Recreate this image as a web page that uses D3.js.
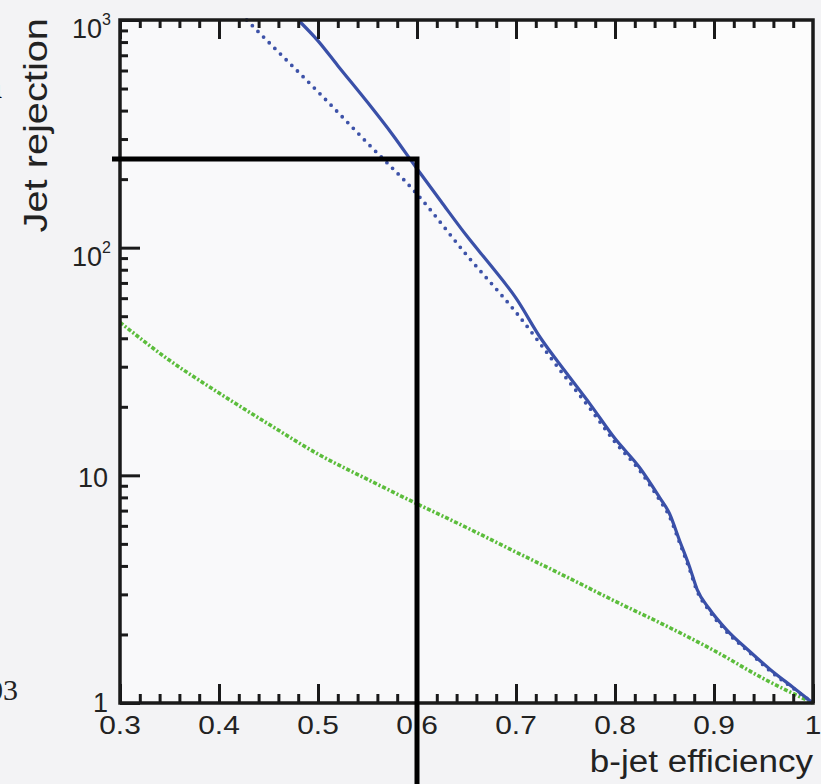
<!DOCTYPE html>
<html>
<head>
<meta charset="utf-8">
<script src="https://cdn.jsdelivr.net/npm/d3@7"></script>
<style>
  body { margin: 0; background: #f3f3f5; }
  svg { display: block; font-family: 'Liberation Sans', Arial, Helvetica, sans-serif; }
</style>
</head>
<body>
<div id="chart"></div>
<script>
// curves: [b-jet efficiency, jet rejection]
const ipSolid = [
  [0.48, 1000], [0.50, 810], [0.52, 630], [0.55, 435], [0.575, 315], [0.60, 222],
  [0.625, 158], [0.65, 113], [0.675, 83], [0.70, 60], [0.725, 40], [0.75, 28.5],
  [0.775, 20.5], [0.80, 14.5], [0.825, 10.8], [0.845, 8.0], [0.855, 6.8], [0.865, 5.2],
  [0.875, 4.0], [0.883, 3.15], [0.895, 2.6], [0.913, 2.09], [0.935, 1.7], [0.957, 1.4],
  [0.98, 1.17], [1.0, 1.0]
];
const ipDotted = [
  [0.428, 1000], [0.45, 800], [0.50, 484], [0.55, 288], [0.60, 172], [0.65, 93],
  [0.70, 52], [0.75, 27], [0.775, 19.6], [0.80, 14.0], [0.825, 10.5], [0.845, 7.8],
  [0.855, 6.6], [0.865, 5.1], [0.875, 3.9], [0.883, 3.1], [0.895, 2.55], [0.913, 2.05],
  [0.935, 1.68], [0.957, 1.38], [0.98, 1.16], [1.0, 1.0]
];
const svDashDot = [
  [0.30, 47], [0.35, 32], [0.40, 23], [0.45, 16.8], [0.50, 12.4], [0.55, 9.6],
  [0.60, 7.5], [0.65, 5.9], [0.70, 4.6], [0.75, 3.6], [0.80, 2.8], [0.85, 2.2],
  [0.90, 1.7], [0.95, 1.28], [1.0, 1.0]
];

const xTicks = [0.3, 0.4, 0.5, 0.6, 0.7, 0.8, 0.9, 1.0];
const xTickLabels = ['0.3', '0.4', '0.5', '0.6', '0.7', '0.8', '0.9', '1'];
const yTicks = [1, 10, 100, 1000];
const yTickBase = ['1', '10', '10', '10'];
const yTickExp = ['', '', '2', '3'];

// working point marked by the black lines
const cutEff = 0.6;
const cutRej = 245;

const W = 821;
const H = 784;
const margin = { top: 20, right: 8, bottom: 81, left: 120 };

const svg = d3
  .select('#chart')
  .append('svg')
  .attr('width', W)
  .attr('height', H);

const xScale = d3.scaleLinear().domain([0.3, 1.0]).range([margin.left, W - margin.right]);
const yScale = d3.scaleLog().domain([1, 1000]).range([H - margin.bottom, margin.top]);

const x0 = xScale.range()[0];
const x1 = xScale.range()[1];
const y0 = yScale.range()[0];
const y1 = yScale.range()[1];

// faint background
svg.append('rect').attr('width', W).attr('height', H).attr('fill', '#f3f3f5');
svg
  .append('rect')
  .attr('x', x0)
  .attr('y', y1)
  .attr('width', x1 - x0)
  .attr('height', y0 - y1)
  .attr('fill', '#f9f9fa');
svg
  .append('rect')
  .attr('x', x0 + 390)
  .attr('y', y1)
  .attr('width', x1 - x0 - 390)
  .attr('height', 430)
  .attr('fill', '#fcfcfc');

// stray bits at the left edge
svg
  .append('text')
  .attr('x', -14)
  .attr('y', 98)
  .style('font-size', '36px')
  .style('font-family', 'Liberation Serif, serif')
  .text('a');
svg
  .append('text')
  .attr('x', -12)
  .attr('y', 700)
  .style('font-size', '30px')
  .style('font-family', 'Liberation Serif, serif')
  .attr('fill', '#222')
  .text('03');

// curves
const line = d3
  .line()
  .x(d => xScale(d[0]))
  .y(d => yScale(d[1]))
  .curve(d3.curveMonotoneX);

const plot = svg.append('g');
plot
  .append('path')
  .datum(svDashDot)
  .attr('d', line)
  .attr('fill', 'none')
  .attr('stroke', '#5cbd3c')
  .attr('stroke-width', 3.6)
  .attr('stroke-dasharray', '4,2,2,2');
plot
  .append('path')
  .datum(ipDotted)
  .attr('d', line)
  .attr('fill', 'none')
  .attr('stroke', '#3d52a8')
  .attr('stroke-width', 3.8)
  .attr('stroke-linecap', 'round')
  .attr('stroke-dasharray', '0,8');
plot
  .append('path')
  .datum(ipSolid)
  .attr('d', line)
  .attr('fill', 'none')
  .attr('stroke', '#3a50a8')
  .attr('stroke-width', 3.2);

// axes: ticks point into the frame
const xMinor = d3.range(0.3, 1.0001, 0.02).map(v => +v.toFixed(2));
const yMinor = [];
[1, 10, 100].forEach(dec => {
  for (let k = 2; k <= 9; k++) yMinor.push(dec * k);
});

const axisStyle = g => {
  g.select('.domain').remove();
  g.selectAll('.tick line').attr('stroke', '#1a1a1a').attr('stroke-width', 3);
  g.selectAll('.tick text').remove();
};

svg
  .append('g')
  .attr('transform', `translate(0,${y0})`)
  .call(d3.axisBottom(xScale).tickValues(xMinor).tickSize(-9))
  .call(axisStyle);
svg
  .append('g')
  .attr('transform', `translate(0,${y0})`)
  .call(d3.axisBottom(xScale).tickValues(xTicks).tickSize(-19))
  .call(axisStyle);
svg
  .append('g')
  .attr('transform', `translate(0,${y1})`)
  .call(d3.axisTop(xScale).tickValues(xMinor.slice(0, -1)).tickSize(-8))
  .call(axisStyle);
svg
  .append('g')
  .attr('transform', `translate(0,${y1})`)
  .call(d3.axisTop(xScale).tickValues(xTicks.slice(0, -1)).tickSize(-19))
  .call(axisStyle);
svg
  .append('g')
  .attr('transform', `translate(${x0},0)`)
  .call(d3.axisLeft(yScale).tickValues(yMinor).tickSize(-8))
  .call(axisStyle);
svg
  .append('g')
  .attr('transform', `translate(${x0},0)`)
  .call(d3.axisLeft(yScale).tickValues(yTicks).tickSize(-20))
  .call(axisStyle);

// frame
svg
  .append('path')
  .attr('d', `M${x0},${y1} L${x1},${y1} L${x1},${y0} L${x0},${y0} Z`)
  .attr('fill', 'none')
  .attr('stroke', '#1a1a1a')
  .attr('stroke-width', 3.5);

// tick labels
svg
  .selectAll('.xlab')
  .data(xTicks)
  .enter()
  .append('text')
  .attr('class', 'xlab')
  .attr('transform', d => `translate(${xScale(d)},${y0 + 31}) scale(1.15,1)`)
  .attr('text-anchor', 'middle')
  .style('font-size', '26px')
  .attr('fill', '#222')
  .text((d, i) => xTickLabels[i]);

const ylab = svg
  .selectAll('.ylab')
  .data(yTicks)
  .enter()
  .append('text')
  .attr('class', 'ylab')
  .attr('x', (d, i) => (yTickExp[i] ? x0 - 9 : x0 - 12))
  .attr('y', (d, i) => yScale(d) + (yTickExp[i] ? 18 : i === 0 ? 9 : 12))
  .attr('text-anchor', 'end')
  .style('font-size', '27px')
  .attr('fill', '#222');
ylab.append('tspan').text((d, i) => yTickBase[i]);
ylab
  .append('tspan')
  .attr('dy', -13)
  .style('font-size', '16px')
  .text((d, i) => yTickExp[i]);

// axis titles
svg
  .append('text')
  .attr('transform', `translate(${x1},${H - 12}) scale(1.13,1)`)
  .attr('text-anchor', 'end')
  .style('font-size', '31px')
  .attr('fill', '#222')
  .text('b-jet efficiency');
svg
  .append('text')
  .attr('transform', `translate(47,${y1 - 2}) rotate(-90) scale(1.17,1)`)
  .attr('text-anchor', 'end')
  .style('font-size', '34px')
  .attr('fill', '#222')
  .text('Jet rejection');

// working point lines
svg
  .append('path')
  .attr('d', `M${x0 - 8},${yScale(cutRej)} L${xScale(cutEff)},${yScale(cutRej)} L${xScale(cutEff)},${H}`)
  .attr('fill', 'none')
  .attr('stroke', '#000')
  .attr('stroke-width', 5);
</script>
</body>
</html>
